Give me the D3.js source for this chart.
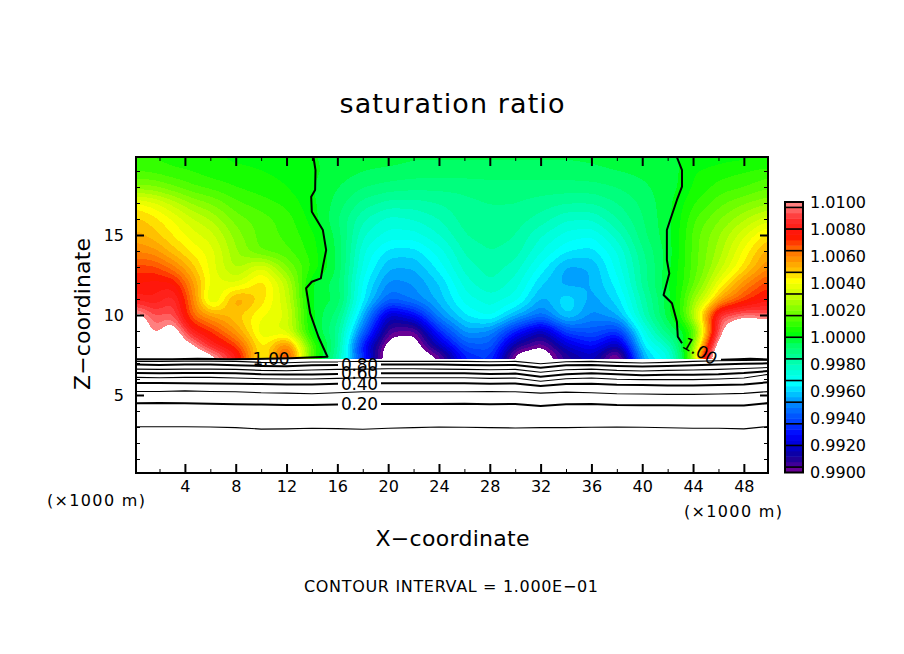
<!DOCTYPE html>
<html>
<head>
<meta charset="utf-8">
<script src="https://cdn.jsdelivr.net/npm/d3@7"></script>
<style>
  body { margin: 0; background: #fff; }
  text { font-family: "DejaVu Sans", sans-serif; fill: #000; }
</style>
</head>
<body>
<div id="chart"></div>
<script>
// field columns (km) and rows (km)
const fieldX = [0, 1.5, 3, 4.5, 6, 8, 10, 12, 14, 16, 18, 20, 22, 24, 26, 28, 30, 32, 34, 36, 38, 40, 42, 43, 44, 45, 46, 48, 50];
const fieldZ = [20, 19, 18, 17, 16, 15, 14, 13, 12, 11, 10, 9, 8, 7.3];

// saturation ratio per row, stored as (ratio - 1) * 10000
const satZ20 = [8, 7, 6, 5, 4, 3, 3, 2, 0, -1, -2, -2, -3, -3, -3, -3, -3, -3, -3, -3, -2, -1, -1, 0, 1, 1, 2, 2, 3];
const satZ19 = [12, 11, 9, 8, 6, 5, 4, 3, 1, -2, -4, -5, -6, -6, -6, -6, -6, -6, -6, -5, -4, -3, -1, 0, 4, 5, 6, 8, 10];
const satZ18 = [22, 21, 17, 13, 11, 8, 6, 4, 0, -4, -8, -10, -11, -11, -11, -10, -10, -10, -10, -10, -8, -5, -1.5, 0.5, 5, 7, 10, 12, 16];
const satZ17 = [42, 38, 31, 24, 20, 13, 10, 7, 1, -6, -14, -18, -18, -16, -13, -12, -12, -14, -16, -16, -12, -7, -1, 3, 8, 11, 15, 20, 24];
const satZ16 = [50, 46, 40, 33, 28, 18, 14, 10, 2, -8, -20, -26, -24, -20, -14, -13, -14, -18, -24, -24, -16, -8, -1, 4, 12, 16, 20, 28, 36];
const satZ15 = [54, 50, 44, 38, 34, 22, 14, 11, 5, -6, -24, -30, -30, -24, -16, -14, -16, -24, -30, -32, -22, -9, -1, 5, 14, 19, 24, 36, 48];
const satZ14 = [60, 58, 50, 43, 38, 24, 15, 13, 6, -5, -28, -38, -38, -30, -19, -16, -18, -28, -36, -38, -28, -12, -2, 5, 14, 20, 26, 42, 56];
const satZ13 = [70, 70, 62, 50, 38, 26, 38, 20, 7, -5, -30, -44, -44, -34, -22, -18, -22, -34, -46, -44, -30, -14, -1, 6, 14, 21, 30, 46, 62];
const satZ12 = [76, 78, 78, 58, 38, 36, 48, 30, -2, -6, -34, -50, -48, -40, -26, -20, -26, -40, -46, -44, -34, -14, 0, 6, 16, 26, 40, 60, 72];
const satZ11 = [82, 80, 88, 62, 30, 58, 46, 32, -2, -4, -36, -56, -50, -42, -30, -26, -30, -46, -36, -46, -38, -18, -1, 8, 25, 35, 55, 70, 80];
const satZ10 = [108, 92, 94, 64, 56, 48, 40, 36, -0.5, -10, -44, -84, -74, -48, -36, -30, -44, -54, -38, -50, -44, -20, -1, 8, 30, 60, 92, 98, 94];
const satZ9 = [120, 96, 110, 82, 72, 56, 36, 34, 1, -14, -56, -96, -100, -66, -46, -50, -70, -86, -62, -58, -66, -30, -8, -3, 10, 50, 98, 125, 115];
const satZ8 = [125, 112, 114, 106, 86, 72, 42, 68, 12, -14, -74, -108, -107, -84, -60, -58, -92, -102, -82, -72, -90, -36, -24, -4, 22, 74, 115, 125, 125];
const satZ7 = [120, 115, 115, 115, 112, 84, 36, 75, 10, -20, -64, -114, -112, -104, -70, -65, -110, -112, -92, -85, -112, -45, -30, -10, 30, 95, 120, 125, 125];
const satRows = [satZ20, satZ19, satZ18, satZ17, satZ16, satZ15, satZ14, satZ13, satZ12, satZ11, satZ10, satZ9, satZ8, satZ7];

// heights (km) of the low contour lines, one value per lineX
const lineX = [0, 2, 4, 6, 8, 10, 12, 14, 16, 18, 20, 22, 24, 26, 28, 30, 32, 34, 36, 38, 40, 42, 44, 46, 48, 50];
const line010 = [3.02, 3.02, 3.02, 3.00, 2.96, 2.87, 2.88, 2.92, 2.90, 2.86, 2.92, 2.96, 3.00, 2.98, 2.96, 2.94, 2.96, 2.96, 2.98, 3.00, 2.98, 2.95, 2.92, 2.92, 2.88, 3.04];
const line020 = [4.48, 4.50, 4.48, 4.46, 4.42, 4.40, 4.38, 4.38, 4.40, 4.44, 4.44, 4.44, 4.44, 4.46, 4.42, 4.44, 4.32, 4.42, 4.44, 4.38, 4.36, 4.36, 4.34, 4.34, 4.34, 4.50];
const line030 = [5.22, 5.22, 5.26, 5.22, 5.20, 5.14, 5.12, 5.08, 5.14, 5.20, 5.20, 5.20, 5.20, 5.20, 5.22, 5.20, 5.12, 5.18, 5.14, 5.08, 5.06, 5.04, 5.04, 5.06, 5.10, 5.22];
const line040 = [5.75, 5.75, 5.74, 5.72, 5.70, 5.68, 5.66, 5.66, 5.70, 5.74, 5.74, 5.74, 5.74, 5.74, 5.70, 5.72, 5.56, 5.68, 5.70, 5.64, 5.62, 5.60, 5.60, 5.62, 5.66, 5.80];
const line050 = [6.10, 6.08, 6.10, 6.10, 6.06, 6.02, 6.00, 6.00, 6.04, 6.08, 6.08, 6.08, 6.08, 6.08, 6.04, 6.06, 5.86, 6.02, 6.06, 5.98, 5.96, 5.96, 5.96, 6.00, 6.06, 6.30];
const line060 = [6.38, 6.36, 6.38, 6.38, 6.36, 6.30, 6.28, 6.28, 6.32, 6.36, 6.36, 6.36, 6.36, 6.36, 6.32, 6.34, 6.14, 6.30, 6.36, 6.30, 6.24, 6.26, 6.26, 6.30, 6.38, 6.50];
const line070 = [6.62, 6.60, 6.62, 6.62, 6.60, 6.54, 6.52, 6.56, 6.60, 6.62, 6.64, 6.64, 6.62, 6.60, 6.58, 6.60, 6.42, 6.58, 6.62, 6.54, 6.50, 6.54, 6.56, 6.60, 6.66, 6.72];
const line080 = [6.90, 6.88, 6.90, 6.90, 6.86, 6.82, 6.80, 6.86, 6.88, 6.90, 6.90, 6.90, 6.90, 6.88, 6.86, 6.88, 6.70, 6.86, 6.88, 6.82, 6.78, 6.82, 6.86, 6.90, 6.96, 6.98];
const line090 = [7.10, 7.10, 7.12, 7.12, 7.10, 7.04, 7.02, 7.06, 7.06, 7.10, 7.10, 7.10, 7.10, 7.10, 7.08, 7.10, 6.95, 7.08, 7.10, 7.04, 7.00, 7.04, 7.10, 7.14, 7.16, 7.18];
const lowLines = [line010, line020, line030, line040, line050, line060, line070, line080, line090];
const lowLineWidths = [1, 2, 1, 2, 1, 2, 1, 2, 1];

// the 1.00 contour, as [x, z] pairs
const oneLineLeft = [[14.12, 19.86], [14.28, 19.06], [14.25, 17.81], [13.94, 17.39], [13.99, 16.46], [14.86, 15.31], [15.12, 14.06], [14.86, 13.02], [14.7, 12.29], [13.99, 12.08], [13.54, 11.67], [13.86, 10.1], [14.51, 8.64], [15.22, 7.39], [12.3, 7.3], [9.5, 7.25], [7.5, 7.24], [5, 7.27], [3, 7.24], [0.2, 7.24]];
const oneLineRight = [[42.73, 19.86], [43.13, 19.06], [43.13, 18.02], [42.73, 17.19], [42.2, 15.94], [41.94, 15.31], [41.94, 13.44], [42.13, 12.6], [41.68, 11.25], [42.34, 10.73], [42.73, 9.58], [42.8, 8.64], [43.13, 8.23]];
const oneLineSurface = [[46.2, 7.2], [47.5, 7.24], [48.5, 7.27], [49.9, 7.22]];

// contour labels: text and height (km)
const lineLabels = ['0.20', '0.40', '0.60', '0.80'];
const lineLabelZ = [4.45, 5.68, 6.37, 6.87];

// colour bar
const barTicks = [0.99, 0.992, 0.994, 0.996, 0.998, 1.0, 1.002, 1.004, 1.006, 1.008, 1.01];
const barSeparators = [0.9904, 0.992, 0.9936, 0.9952, 0.9968, 0.9984, 1.0, 1.0016, 1.0032, 1.0048, 1.0064, 1.008, 1.0096];
const colorStops = [0.99, 0.9904, 0.9912, 0.992, 0.9928, 0.9936, 0.9944, 0.9952, 0.9966, 0.9975, 0.9984, 0.9995, 1.0003, 1.0016, 1.003, 1.0042, 1.005, 1.0064, 1.0075, 1.0088, 1.0096, 1.01];
const colorValues = ['#800090', '#50009a', '#100098', '#0000d0', '#0000ff', '#0038ff', '#0060ff', '#0090ff', '#00ffff', '#00ffd8', '#00ffa0', '#00ff60', '#00ff00', '#60ff00', '#c0ff00', '#ffff00', '#ffc000', '#ff7000', '#ff1000', '#ff3030', '#ff7070', '#ff9090'];

const width = 904, height = 654;
const plot = { left: 136, right: 768, top: 157, bottom: 473 };

const svg = d3.select('#chart').append('svg')
  .attr('width', width)
  .attr('height', height)
  .style('display', 'block');

const x = d3.scaleLinear().domain([0.15, 49.9]).range([plot.left, plot.right]);
const y = d3.scaleLinear().domain([0.125, 19.875]).range([plot.bottom, plot.top]);
const color = d3.scaleLinear().domain(colorStops).range(colorValues).clamp(true);

// turn the read grid into a fine one so the bands come out smooth
const cell = 2;
const gridW = Math.ceil((plot.right - plot.left) / cell);
const gridH = Math.ceil((y(7.3) - plot.top) / cell);
const zAsc = fieldZ.map(d => -d);
const fine = new Float64Array(gridW * gridH);
for (let j = 0; j < gridH; j++) {
  const zv = y.invert(plot.top + j * cell);
  let r = d3.bisectRight(zAsc, -zv) - 1;
  r = Math.max(0, Math.min(fieldZ.length - 2, r));
  const tz = Math.max(0, Math.min(1, (fieldZ[r] - zv) / (fieldZ[r] - fieldZ[r + 1])));
  for (let i = 0; i < gridW; i++) {
    const xv = x.invert(plot.left + i * cell);
    let c = d3.bisectRight(fieldX, xv) - 1;
    c = Math.max(0, Math.min(fieldX.length - 2, c));
    const tx = Math.max(0, Math.min(1, (xv - fieldX[c]) / (fieldX[c + 1] - fieldX[c])));
    const top = satRows[r][c] * (1 - tx) + satRows[r][c + 1] * tx;
    const bot = satRows[r + 1][c] * (1 - tx) + satRows[r + 1][c + 1] * tx;
    fine[j * gridW + i] = 1 + (top * (1 - tz) + bot * tz) / 10000;
  }
}
if (d3.blur2) d3.blur2({ data: fine, width: gridW, height: gridH }, 2);

// filled bands, every 0.0004 from 0.99 to 1.01
const bandStep = 0.0004;
const thresholds = d3.range(51).map(i => 0.99 + i * bandStep);
const bands = d3.contours().size([gridW, gridH]).thresholds(thresholds)(fine);
const path = d3.geoPath(d3.geoIdentity().scale(cell).translate([plot.left, plot.top]));

svg.append('clipPath').attr('id', 'plot-clip')
  .append('rect')
  .attr('x', plot.left).attr('y', plot.top)
  .attr('width', plot.right - plot.left).attr('height', plot.bottom - plot.top);

svg.append('g')
  .attr('clip-path', 'url(#plot-clip)')
  .selectAll('path')
  .data(bands)
  .join('path')
  .attr('d', path)
  .attr('shape-rendering', 'crispEdges')
  .attr('fill', d => d.value >= 1.00999 ? '#fff' : color(d.value + bandStep / 2));

// contour lines
const lineGen = d3.line().x(d => x(d[0])).y(d => y(d[1]));
const lineG = svg.append('g')
  .attr('clip-path', 'url(#plot-clip)')
  .attr('fill', 'none')
  .attr('stroke', '#000')
  .attr('stroke-linejoin', 'round');

lowLines.forEach((vals, i) => {
  lineG.append('path')
    .attr('d', lineGen(vals.map((v, k) => [lineX[k], v])))
    .attr('stroke-width', lowLineWidths[i] == 2 ? 2 : 1.1);
});
[oneLineLeft, oneLineRight, oneLineSurface].forEach(pts => {
  lineG.append('path').attr('d', lineGen(pts)).attr('stroke-width', 2);
});

// contour labels, each one breaks its own line
lineLabels.forEach((t, i) => {
  svg.append('rect')
    .attr('x', 338).attr('y', y(lineLabelZ[i]) - 3)
    .attr('width', 43).attr('height', 6)
    .attr('fill', '#fff');
});
lineLabels.forEach((t, i) => {
  svg.append('text')
    .attr('x', 359.5).attr('y', y(lineLabelZ[i]))
    .attr('dy', '0.36em')
    .attr('text-anchor', 'middle')
    .attr('textLength', 37)
    .style('font-size', '17px')
    .text(t);
});
svg.append('text')
  .attr('x', 271).attr('y', 359)
  .attr('dy', '0.36em')
  .attr('text-anchor', 'middle')
  .attr('textLength', 37)
  .style('font-size', '17px')
  .text('1.00');
svg.append('text')
  .attr('transform', 'translate(700,351) rotate(30)')
  .attr('dy', '0.36em')
  .attr('text-anchor', 'middle')
  .attr('textLength', 37)
  .style('font-size', '17px')
  .text('1.00');

// frame and ticks
const xMajor = [4, 8, 12, 16, 20, 24, 28, 32, 36, 40, 44, 48];
const xMinor = [2, 6, 10, 14, 18, 22, 26, 30, 34, 38, 42, 46];
const zMajor = [5, 10, 15];
const zMinor = [1, 2, 3, 4, 6, 7, 8, 9, 11, 12, 13, 14, 16, 17, 18, 19];

const addAxis = (axis, tx, ty, tickWidth) => {
  const g = svg.append('g')
    .attr('transform', `translate(${tx},${ty})`)
    .call(axis);
  g.select('.domain').remove();
  g.selectAll('.tick line').attr('stroke-width', tickWidth);
  g.selectAll('text').style('font-size', '16px').style('font-family', '"DejaVu Sans", sans-serif');
  return g;
};
addAxis(d3.axisBottom(x).tickValues(xMajor).tickSize(-9).tickPadding(8), 0, plot.bottom, 2);
addAxis(d3.axisBottom(x).tickValues(xMinor).tickSize(-4).tickFormat(''), 0, plot.bottom, 1);
addAxis(d3.axisTop(x).tickValues(xMajor).tickSize(-9).tickFormat(''), 0, plot.top, 2);
addAxis(d3.axisTop(x).tickValues(xMinor).tickSize(-4).tickFormat(''), 0, plot.top, 1);
addAxis(d3.axisLeft(y).tickValues(zMajor).tickSize(-8).tickPadding(12), plot.left, 0, 2);
addAxis(d3.axisLeft(y).tickValues(zMinor).tickSize(-4).tickFormat(''), plot.left, 0, 1);
addAxis(d3.axisRight(y).tickValues(zMajor).tickSize(-8).tickFormat(''), plot.right, 0, 2);
addAxis(d3.axisRight(y).tickValues(zMinor).tickSize(-4).tickFormat(''), plot.right, 0, 1);

svg.append('rect')
  .attr('x', plot.left).attr('y', plot.top)
  .attr('width', plot.right - plot.left).attr('height', plot.bottom - plot.top)
  .attr('fill', 'none')
  .attr('stroke', '#000')
  .attr('stroke-width', 2);

// colour bar
const barX = 785, barW = 18;
const barY = d3.scaleLinear().domain([0.99, 1.01]).range([472.5, 202]);
svg.append('g')
  .selectAll('rect')
  .data(thresholds.slice(0, 50))
  .join('rect')
  .attr('x', barX)
  .attr('y', d => barY(d + bandStep))
  .attr('width', barW)
  .attr('height', d => barY(d) - barY(d + bandStep) + 0.5)
  .attr('fill', d => color(d + bandStep / 2));
svg.append('g')
  .selectAll('line')
  .data(barSeparators)
  .join('line')
  .attr('x1', barX).attr('x2', barX + barW)
  .attr('y1', d => barY(d)).attr('y2', d => barY(d))
  .attr('stroke', '#000')
  .attr('stroke-width', 1.6);
svg.append('rect')
  .attr('x', barX).attr('y', 202)
  .attr('width', barW).attr('height', 270.5)
  .attr('fill', 'none')
  .attr('stroke', '#000')
  .attr('stroke-width', 2);
const barAxis = addAxis(d3.axisRight(barY).tickValues(barTicks).tickSize(0).tickPadding(7).tickFormat(d3.format('.4f')), barX + barW, 0, 0);
barAxis.selectAll('text').attr('textLength', 56);

// titles
const addText = (t, xp, yp, size, len, rotate) => {
  svg.append('text')
    .attr('transform', `translate(${xp},${yp})` + (rotate ? ` rotate(${rotate})` : ''))
    .attr('text-anchor', 'middle')
    .attr('textLength', len)
    .style('font-size', size + 'px')
    .text(t);
};
addText('saturation ratio', 452, 113, 27, 225);
addText('X\u2212coordinate', 452.5, 546, 22, 154);
addText('Z\u2212coordinate', 90, 314, 22, 152, -90);
addText('CONTOUR INTERVAL = 1.000E\u221201', 451, 592, 16, 294);
addText('(\u00d71000 m)', 96, 506, 16, 98);
addText('(\u00d71000 m)', 733, 517, 16, 98);
</script>
</body>
</html>
